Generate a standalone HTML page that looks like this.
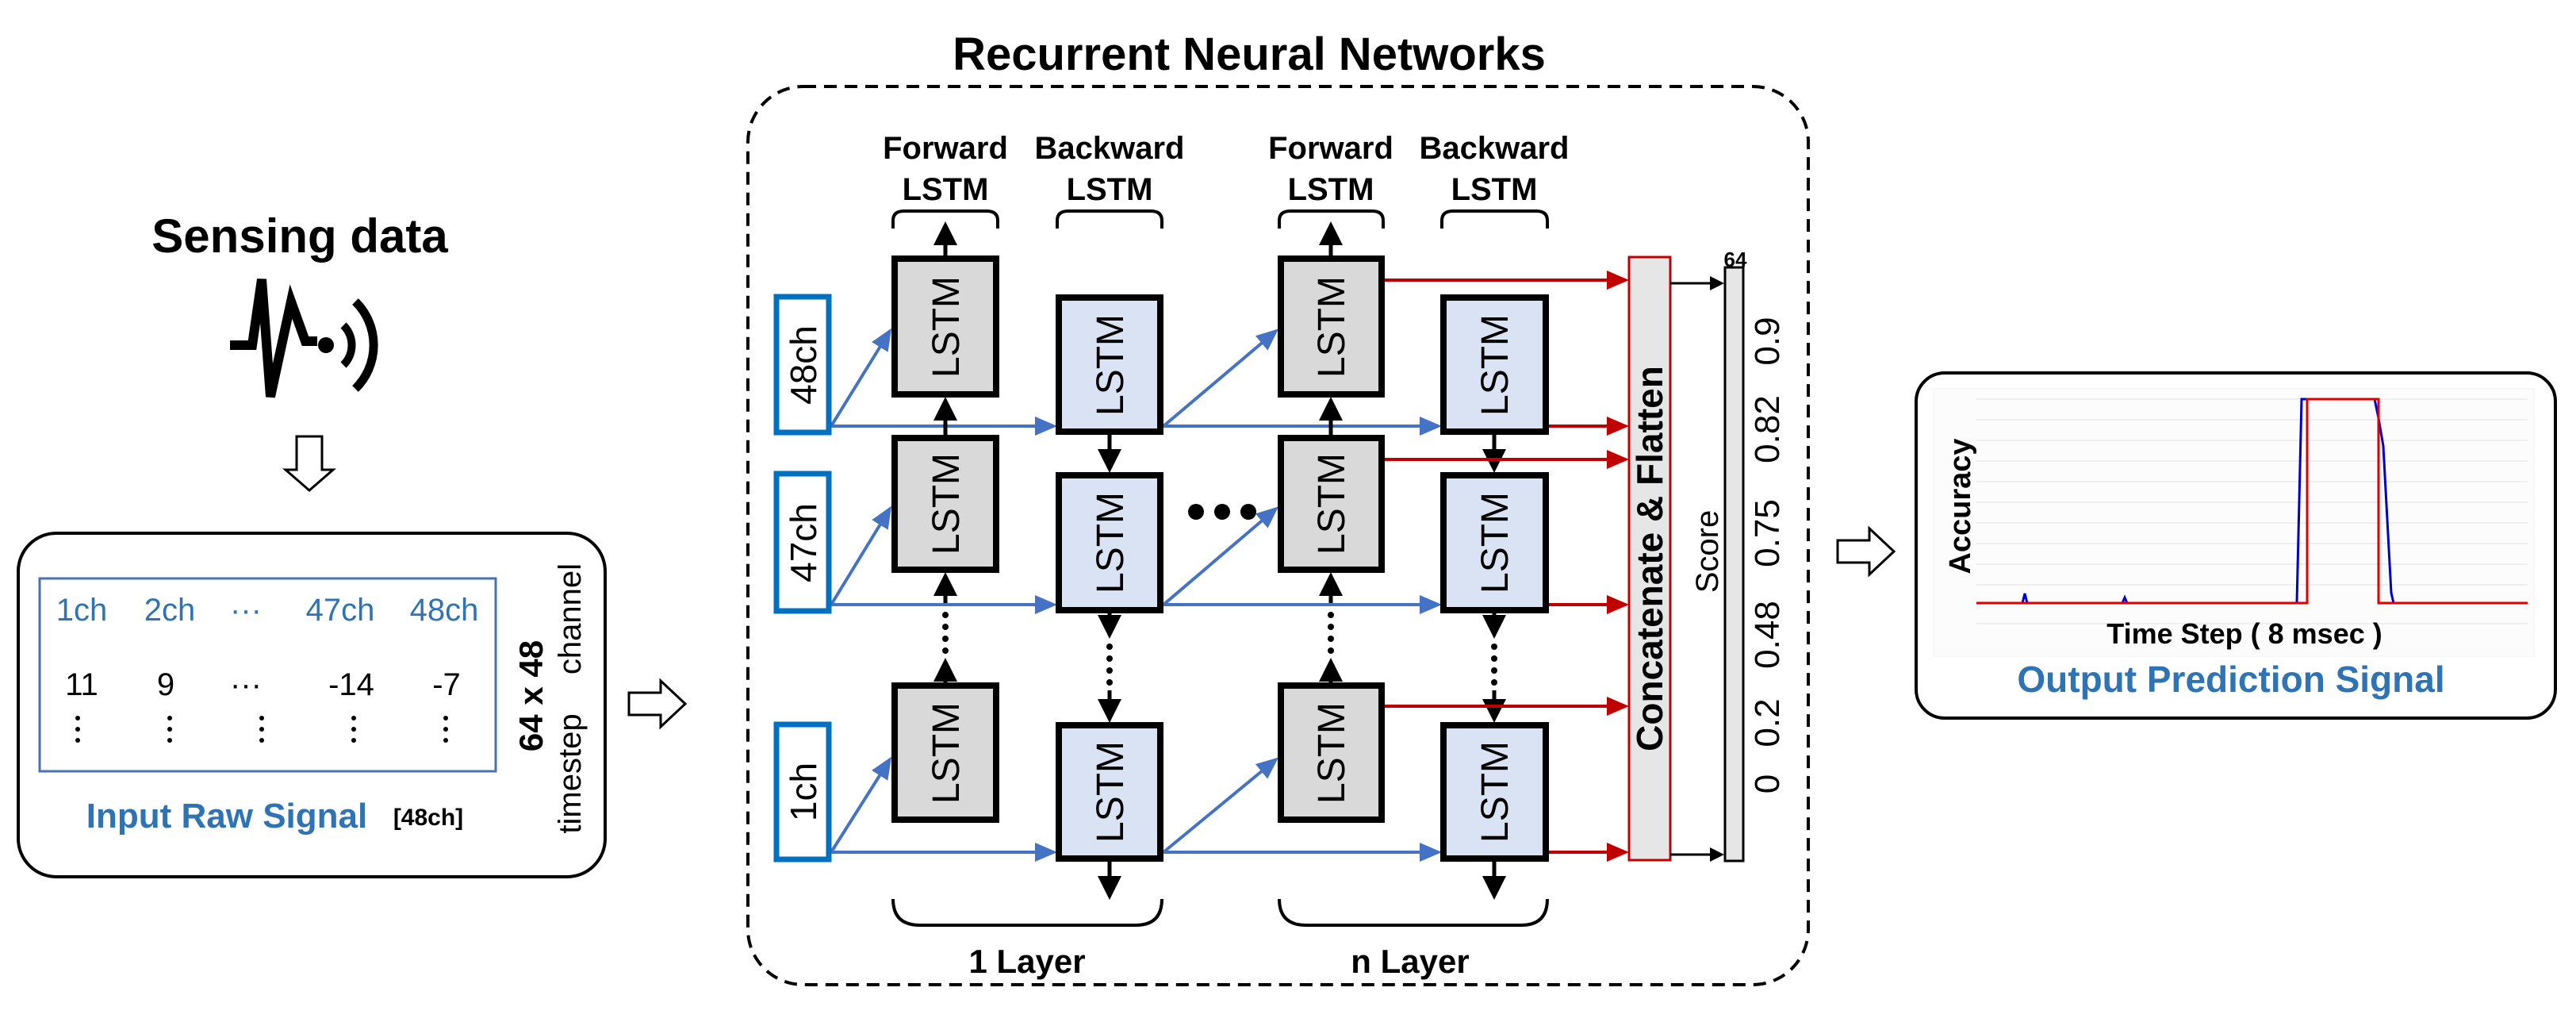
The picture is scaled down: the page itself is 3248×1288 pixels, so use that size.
<!DOCTYPE html>
<html><head><meta charset="utf-8"><style>
html,body{margin:0;padding:0;background:#fff}
svg{display:block}
text{font-family:"Liberation Sans",sans-serif}
</style></head><body>
<svg width="3248" height="1288" viewBox="0 0 3248 1288" xmlns="http://www.w3.org/2000/svg">
<defs>
<marker id="ak" markerWidth="6" markerHeight="6" refX="5" refY="3" orient="auto" markerUnits="strokeWidth"><path d="M0,0 L6,3 L0,6 z" fill="#000"/></marker>
<marker id="ab" markerWidth="7" markerHeight="6" refX="6" refY="3" orient="auto" markerUnits="strokeWidth"><path d="M0,0 L7,3 L0,6 z" fill="#4472c4"/></marker>
<marker id="ar" markerWidth="7" markerHeight="6" refX="6" refY="3" orient="auto" markerUnits="strokeWidth"><path d="M0,0 L7,3 L0,6 z" fill="#c00000"/></marker>
</defs>

<!-- LEFT -->
<text x="378" y="318" font-size="60" font-weight="bold" text-anchor="middle">Sensing data</text>
<polyline points="290,435 318,435 330,352 341,500 367,380 385,430 400,430" fill="none" stroke="#000" stroke-width="12" stroke-linejoin="miter"/>
<circle cx="411" cy="435" r="10" fill="#000"/>
<path d="M433,410 A35,35 0 0 1 433,460" fill="none" stroke="#000" stroke-width="10"/>
<path d="M448,380 A77,77 0 0 1 448,490" fill="none" stroke="#000" stroke-width="11"/>
<polygon points="374,550 406,550 406,592 420,592 390,618 360,592 374,592" fill="#fff" stroke="#000" stroke-width="3"/>

<rect x="23" y="672" width="740" height="433" rx="48" fill="#fff" stroke="#000" stroke-width="4"/>
<rect x="50" y="729" width="575" height="243" fill="none" stroke="#4a72b0" stroke-width="3"/>
<g font-size="40" fill="#2e74b5" text-anchor="middle">
<text x="103" y="782">1ch</text><text x="214" y="782">2ch</text><text x="310" y="782">···</text><text x="429" y="782">47ch</text><text x="560" y="782">48ch</text>
</g>
<g font-size="40" fill="#000" text-anchor="middle">
<text x="103" y="876">11</text><text x="209" y="876">9</text><text x="310" y="876">···</text><text x="443" y="876">-14</text><text x="563" y="876">-7</text>
</g>
<g fill="#000">
<circle cx="98" cy="905" r="3"/><circle cx="98" cy="919" r="3"/><circle cx="98" cy="933" r="3"/>
<circle cx="214" cy="905" r="3"/><circle cx="214" cy="919" r="3"/><circle cx="214" cy="933" r="3"/>
<circle cx="330" cy="905" r="3"/><circle cx="330" cy="919" r="3"/><circle cx="330" cy="933" r="3"/>
<circle cx="446" cy="905" r="3"/><circle cx="446" cy="919" r="3"/><circle cx="446" cy="933" r="3"/>
<circle cx="562" cy="905" r="3"/><circle cx="562" cy="919" r="3"/><circle cx="562" cy="933" r="3"/>
</g>
<text x="286" y="1043" font-size="44" font-weight="bold" fill="#2e74b5" text-anchor="middle">Input Raw Signal</text>
<text x="540" y="1040" font-size="30" font-weight="bold" text-anchor="middle">[48ch]</text>
<text transform="translate(684,877) rotate(-90)" font-size="42" font-weight="bold" text-anchor="middle">64 x 48</text>
<text transform="translate(732,975) rotate(-90)" font-size="40" text-anchor="middle">timestep</text>
<text transform="translate(732,780) rotate(-90)" font-size="40" text-anchor="middle">channel</text>
<polygon points="793,873 833,873 833,858 864,887 833,916 833,901 793,901" fill="#fff" stroke="#000" stroke-width="3"/>

<!-- MIDDLE -->
<text x="1575" y="88" font-size="58" font-weight="bold" text-anchor="middle">Recurrent Neural Networks</text>
<rect x="943" y="109" width="1337" height="1132" rx="70" fill="none" stroke="#000" stroke-width="4" stroke-dasharray="16,10"/>

<g font-size="40" font-weight="bold" text-anchor="middle">
<text x="1192" y="200">Forward</text><text x="1192" y="252">LSTM</text>
<text x="1399" y="200">Backward</text><text x="1399" y="252">LSTM</text>
<text x="1678" y="200">Forward</text><text x="1678" y="252">LSTM</text>
<text x="1884" y="200">Backward</text><text x="1884" y="252">LSTM</text>
</g>
<g fill="none" stroke="#000" stroke-width="4">
<path d="M1126,288 V278 Q1126,266 1140,266 H1244 Q1258,266 1258,278 V288"/>
<path d="M1333,288 V278 Q1333,266 1347,266 H1451 Q1465,266 1465,278 V288"/>
<path d="M1613,288 V278 Q1613,266 1627,266 H1730 Q1744,266 1744,278 V288"/>
<path d="M1818,288 V278 Q1818,266 1832,266 H1937 Q1951,266 1951,278 V288"/>
<path d="M1126,1133 Q1126,1166 1160,1166 H1432 Q1465,1166 1465,1133"/>
<path d="M1613,1133 Q1613,1166 1647,1166 H1918 Q1951,1166 1951,1133"/>
</g>
<g font-size="42" font-weight="bold" text-anchor="middle">
<text x="1295" y="1226">1 Layer</text><text x="1778" y="1226">n Layer</text>
</g>

<!-- blue lines -->
<g stroke="#4472c4" stroke-width="4" fill="none">
<line x1="1048" y1="537" x2="1329" y2="537" marker-end="url(#ab)"/>
<line x1="1048" y1="762" x2="1329" y2="762" marker-end="url(#ab)"/>
<line x1="1048" y1="1074" x2="1329" y2="1074" marker-end="url(#ab)"/>
<line x1="1048" y1="537" x2="1122" y2="417" marker-end="url(#ab)"/>
<line x1="1048" y1="762" x2="1122" y2="641" marker-end="url(#ab)"/>
<line x1="1048" y1="1074" x2="1122" y2="957" marker-end="url(#ab)"/>
<line x1="1467" y1="537" x2="1814" y2="537" marker-end="url(#ab)"/>
<line x1="1467" y1="762" x2="1814" y2="762" marker-end="url(#ab)"/>
<line x1="1467" y1="1074" x2="1814" y2="1074" marker-end="url(#ab)"/>
<line x1="1467" y1="537" x2="1609" y2="417" marker-end="url(#ab)"/>
<line x1="1467" y1="762" x2="1609" y2="641" marker-end="url(#ab)"/>
<line x1="1467" y1="1074" x2="1609" y2="957" marker-end="url(#ab)"/>
</g>

<!-- vertical black arrows -->
<g stroke="#000" stroke-width="5" fill="none">
<line x1="1192" y1="322" x2="1192" y2="284" marker-end="url(#ak)"/>
<line x1="1678" y1="322" x2="1678" y2="284" marker-end="url(#ak)"/>
<line x1="1192" y1="548" x2="1192" y2="505" marker-end="url(#ak)"/>
<line x1="1678" y1="548" x2="1678" y2="505" marker-end="url(#ak)"/>
<line x1="1192" y1="860" x2="1192" y2="834" marker-end="url(#ak)"/>
<line x1="1678" y1="860" x2="1678" y2="834" marker-end="url(#ak)"/>
<line x1="1192" y1="760" x2="1192" y2="726" marker-end="url(#ak)"/>
<line x1="1678" y1="760" x2="1678" y2="726" marker-end="url(#ak)"/>
<line x1="1399" y1="548" x2="1399" y2="591" marker-end="url(#ak)"/>
<line x1="1884" y1="548" x2="1884" y2="591" marker-end="url(#ak)"/>
<line x1="1399" y1="773" x2="1399" y2="800" marker-end="url(#ak)"/>
<line x1="1884" y1="773" x2="1884" y2="800" marker-end="url(#ak)"/>
<line x1="1399" y1="870" x2="1399" y2="906" marker-end="url(#ak)"/>
<line x1="1884" y1="870" x2="1884" y2="906" marker-end="url(#ak)"/>
<line x1="1399" y1="1086" x2="1399" y2="1129" marker-end="url(#ak)"/>
<line x1="1884" y1="1086" x2="1884" y2="1129" marker-end="url(#ak)"/>
</g>
<g fill="#000">
<circle cx="1192" cy="775" r="4"/><circle cx="1192" cy="790" r="4"/><circle cx="1192" cy="805" r="4"/><circle cx="1192" cy="820" r="4"/>
<circle cx="1678" cy="775" r="4"/><circle cx="1678" cy="790" r="4"/><circle cx="1678" cy="805" r="4"/><circle cx="1678" cy="820" r="4"/>
<circle cx="1399" cy="815" r="4"/><circle cx="1399" cy="830" r="4"/><circle cx="1399" cy="845" r="4"/><circle cx="1399" cy="860" r="4"/>
<circle cx="1884" cy="815" r="4"/><circle cx="1884" cy="830" r="4"/><circle cx="1884" cy="845" r="4"/><circle cx="1884" cy="860" r="4"/>
<circle cx="1508" cy="645" r="10"/><circle cx="1541" cy="645" r="10"/><circle cx="1574" cy="645" r="10"/>
</g>

<!-- input boxes -->
<g fill="#fff" stroke="#0070c0" stroke-width="7">
<rect x="979" y="374" width="66" height="171"/>
<rect x="979" y="597" width="66" height="173"/>
<rect x="979" y="913" width="66" height="170"/>
</g>
<g font-size="46" text-anchor="middle">
<text transform="translate(1029,460) rotate(-90)">48ch</text>
<text transform="translate(1029,684) rotate(-90)">47ch</text>
<text transform="translate(1029,998) rotate(-90)">1ch</text>
</g>

<!-- LSTM boxes -->
<g stroke="#000" stroke-width="8">
<g fill="#d9d9d9">
<rect x="1128" y="326" width="128" height="171"/><rect x="1128" y="552" width="128" height="166"/><rect x="1128" y="864" width="128" height="169"/>
<rect x="1615" y="326" width="127" height="171"/><rect x="1615" y="552" width="127" height="166"/><rect x="1615" y="864" width="127" height="169"/>
</g>
<g fill="#dae3f3">
<rect x="1335" y="375" width="128" height="169"/><rect x="1335" y="599" width="128" height="170"/><rect x="1335" y="914" width="128" height="168"/>
<rect x="1820" y="375" width="129" height="169"/><rect x="1820" y="599" width="129" height="170"/><rect x="1820" y="914" width="129" height="168"/>
</g>
</g>
<g font-size="48" text-anchor="middle">
<text transform="translate(1209,412) rotate(-90)">LSTM</text>
<text transform="translate(1209,635) rotate(-90)">LSTM</text>
<text transform="translate(1209,949) rotate(-90)">LSTM</text>
<text transform="translate(1695,412) rotate(-90)">LSTM</text>
<text transform="translate(1695,635) rotate(-90)">LSTM</text>
<text transform="translate(1695,949) rotate(-90)">LSTM</text>
<text transform="translate(1416,460) rotate(-90)">LSTM</text>
<text transform="translate(1416,684) rotate(-90)">LSTM</text>
<text transform="translate(1416,998) rotate(-90)">LSTM</text>
<text transform="translate(1901,460) rotate(-90)">LSTM</text>
<text transform="translate(1901,684) rotate(-90)">LSTM</text>
<text transform="translate(1901,998) rotate(-90)">LSTM</text>
</g>

<!-- red arrows -->
<g stroke="#c00000" stroke-width="4">
<line x1="1746" y1="353" x2="2050" y2="353" marker-end="url(#ar)"/>
<line x1="1746" y1="579" x2="2050" y2="579" marker-end="url(#ar)"/>
<line x1="1746" y1="890" x2="2050" y2="890" marker-end="url(#ar)"/>
<line x1="1953" y1="537" x2="2050" y2="537" marker-end="url(#ar)"/>
<line x1="1953" y1="762" x2="2050" y2="762" marker-end="url(#ar)"/>
<line x1="1953" y1="1074" x2="2050" y2="1074" marker-end="url(#ar)"/>
</g>
<rect x="2054" y="324" width="52" height="760" fill="#e7e6e6" stroke="#c00000" stroke-width="3"/>
<text transform="translate(2096,704) rotate(-90)" font-size="46" font-weight="bold" text-anchor="middle">Concatenate &amp; Flatten</text>
<g stroke="#000" stroke-width="3">
<line x1="2106" y1="357" x2="2171" y2="357" marker-end="url(#ak)"/>
<line x1="2106" y1="1077" x2="2171" y2="1077" marker-end="url(#ak)"/>
</g>
<rect x="2175" y="337" width="23" height="748" fill="#e6e6e6" stroke="#000" stroke-width="3"/>
<text x="2188" y="336" font-size="26" font-weight="bold" text-anchor="middle">64</text>
<text transform="translate(2166,695) rotate(-90)" font-size="40" text-anchor="middle">Score</text>
<g font-size="44" text-anchor="middle">
<text transform="translate(2243,988) rotate(-90)">0</text>
<text transform="translate(2243,911) rotate(-90)">0.2</text>
<text transform="translate(2243,800) rotate(-90)">0.48</text>
<text transform="translate(2243,672) rotate(-90)">0.75</text>
<text transform="translate(2243,541) rotate(-90)">0.82</text>
<text transform="translate(2243,430) rotate(-90)">0.9</text>
</g>
<polygon points="2317,681 2357,681 2357,666 2388,695 2357,724 2357,709 2317,709" fill="#fff" stroke="#000" stroke-width="3"/>

<!-- RIGHT -->
<rect x="2416" y="470" width="806" height="435" rx="36" fill="#fff" stroke="#000" stroke-width="4"/>
<rect x="2438" y="490" width="757" height="337" fill="#fcfcfc" stroke="#f0f0f0" stroke-width="1"/>
<g stroke="#efefef" stroke-width="2">
<line x1="2492" y1="503" x2="3187" y2="503"/><line x1="2492" y1="529" x2="3187" y2="529"/><line x1="2492" y1="555" x2="3187" y2="555"/>
<line x1="2492" y1="581" x2="3187" y2="581"/><line x1="2492" y1="607" x2="3187" y2="607"/><line x1="2492" y1="633" x2="3187" y2="633"/>
<line x1="2492" y1="659" x2="3187" y2="659"/><line x1="2492" y1="685" x2="3187" y2="685"/><line x1="2492" y1="711" x2="3187" y2="711"/>
<line x1="2492" y1="737" x2="3187" y2="737"/><line x1="2492" y1="786" x2="3187" y2="786"/>
</g>
<polyline points="2492,760 2550,760 2553,748 2556,760 2676,760 2679,753 2682,760 2896,760 2902,503 2994,503 2999,527 3005,562 3015,747 3018,760 3187,760" fill="none" stroke="#0000cc" stroke-width="3"/>
<polyline points="2492,760 2909,760 2909,503 2999,503 2999,760 3187,760" fill="none" stroke="#e00000" stroke-width="3"/>
<text transform="translate(2484,638) rotate(-90)" font-size="38" font-weight="bold" text-anchor="middle">Accuracy</text>
<text x="2830" y="811" font-size="36" font-weight="bold" text-anchor="middle">Time Step ( 8 msec )</text>
<text x="2813" y="872" font-size="46" font-weight="bold" fill="#2e74b5" text-anchor="middle">Output Prediction Signal</text>
</svg>
</body></html>
